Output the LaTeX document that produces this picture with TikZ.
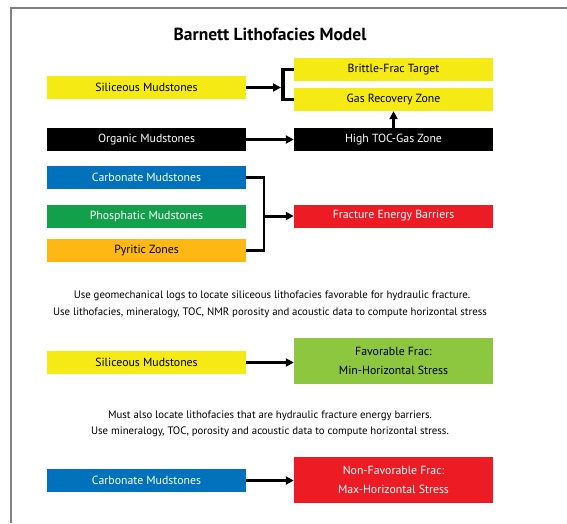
\documentclass[tikz,border=0pt]{standalone}
\usepackage{fontspec}
\setmainfont{PT Sans}
\usetikzlibrary{arrows.meta}
\definecolor{ylw}{HTML}{F5EA14}
\definecolor{blu}{HTML}{0072BC}
\definecolor{grn}{HTML}{12A04B}
\definecolor{org}{HTML}{FDB813}
\definecolor{rd}{HTML}{ED1C24}
\definecolor{lgrn}{HTML}{8DC63F}
\definecolor{frame}{HTML}{808080}
\tikzset{
  box/.style={minimum width=199pt, minimum height=23pt, inner sep=0pt, font=\fontsize{11.8}{13}\selectfont, align=center},
  tallbox/.style={box, minimum height=46pt, font=\fontsize{11.8}{18.5}\selectfont},
  conn/.style={line width=3pt, -{Triangle[length=8pt,width=8pt]}},
  brk/.style={line width=3.5pt},
  brk2/.style={line width=2.5pt},
  note/.style={font=\fontsize{10.8}{12}\selectfont, inner sep=0pt}
}
\begin{document}
\begin{tikzpicture}[x=1pt,y=-1pt]
\useasboundingbox (0,0) rectangle (567,523);
\fill[white] (0,0) rectangle (567,523);
\draw[frame, line width=1.5pt] (11,523) -- (11,8) -- (567,8);

\node[font=\fontsize{17.5}{20}\selectfont\bfseries] (title) at (270,34) {Barnett Lithofacies Model};

\node[box, fill=ylw] (sil1) at (146.5,87.5) {Siliceous Mudstones};
\node[box, fill=ylw] (brit) at (393.5,69.5) {Brittle-Frac Target};
\node[box, fill=ylw] (gas) at (393.5,99.5) {Gas Recovery Zone};
\node[box, fill=black, text=white] (orgm) at (146.5,139.5) {Organic Mudstones};
\node[box, fill=black, text=white] (toc) at (393.5,139.5) {High TOC-Gas Zone};

\coordinate (b1) at (281,87.5);
\draw[brk] (brit.west) -- (283,69.5) -- (283,99.5) -- (gas.west);
\draw[conn] (sil1.east) -- (b1);
\draw[conn] (orgm.east) -- (toc.west);
\draw[conn] (toc.north) -- (gas.south);

\node[box, fill=blu, text=white] (carb1) at (146.5,177.5) {Carbonate Mudstones};
\node[box, fill=grn, text=white] (phos) at (146.5,216.5) {Phosphatic Mudstones};
\node[box, fill=org] (pyr) at (146.5,250.5) {Pyritic Zones};
\node[box, fill=rd, text=white] (feb) at (393.5,216) {Fracture Energy Barriers};

\coordinate (j) at (264,216);
\draw[brk2] (carb1.east) -| (j) |- (pyr.east);
\draw[conn] (j) -- (feb.west);

\node[note] (t1) at (272,296) {Use geomechanical logs to locate siliceous lithofacies favorable for hydraulic fracture.};
\node[note] (t2) at (270,313) {Use lithofacies, mineralogy, TOC, NMR porosity and acoustic data to compute horizontal stress};

\node[box, fill=ylw] (sil2) at (146.5,362.5) {Siliceous Mudstones};
\node[tallbox, fill=lgrn] (fav) at (393.5,361) {Favorable Frac:\\Min-Horizontal Stress};
\draw[conn] (sil2.east) -- (fav.west |- sil2.east);

\node[note] (t3) at (270,416) {Must also locate lithofacies that are hydraulic fracture energy barriers.};
\node[note] (t4) at (270,432) {Use mineralogy, TOC, porosity and acoustic data to compute horizontal stress.};

\node[box, fill=blu, text=white] (carb2) at (146.5,480.5) {Carbonate Mudstones};
\node[tallbox, fill=rd, text=white] (nonfav) at (393.5,480) {Non-Favorable Frac:\\Max-Horizontal Stress};
\draw[conn] (carb2.east) -- (nonfav.west |- carb2.east);
\end{tikzpicture}
\end{document}
